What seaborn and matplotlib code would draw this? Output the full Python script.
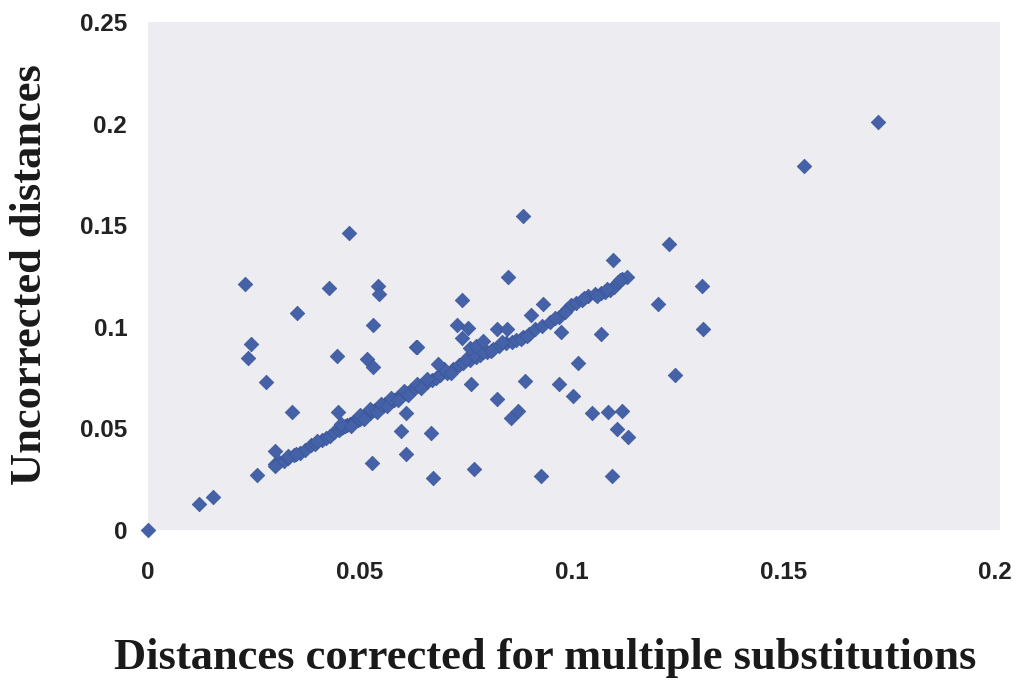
import matplotlib
matplotlib.use("Agg")
import matplotlib.pyplot as plt
import seaborn as sns
import pandas as pd

# Points along the main diagonal (corrected, uncorrected)
diag_x = [0.0300, 0.0310, 0.0320, 0.0330, 0.0345, 0.0360, 0.0370, 0.0385, 0.0395, 0.0410,
          0.0420, 0.0430, 0.0440, 0.0450, 0.0455, 0.0460, 0.0465, 0.0470, 0.0478, 0.0485,
          0.0490, 0.0495, 0.0500, 0.0505, 0.0510, 0.0515, 0.0520, 0.0525, 0.0530, 0.0535,
          0.0540, 0.0545, 0.0550, 0.0555, 0.0560, 0.0568, 0.0575, 0.0580, 0.0588, 0.0595,
          0.0600, 0.0610, 0.0620, 0.0630, 0.0640, 0.0650, 0.0660, 0.0670, 0.0680, 0.0690,
          0.0705, 0.0720, 0.0735, 0.0745, 0.0760, 0.0775, 0.0785, 0.0800, 0.0815, 0.0830,
          0.0845, 0.0860, 0.0870, 0.0885, 0.0900, 0.0915, 0.0930, 0.0950, 0.0970, 0.0990,
          0.1000, 0.1010, 0.1025, 0.1040, 0.1055, 0.1070, 0.1080, 0.1090, 0.1100, 0.1110,
          0.1120, 0.1130,
          0.0455, 0.0480, 0.0500, 0.0510, 0.0525, 0.0540, 0.0550, 0.0565, 0.0575, 0.0590,
          0.0605, 0.0615, 0.0635, 0.0645, 0.0660, 0.0700, 0.0715, 0.0750, 0.0770, 0.0790,
          0.0810, 0.0835, 0.0880, 0.0895, 0.0960, 0.0985, 0.1030, 0.1060, 0.1085, 0.1115,
          0.0330, 0.0350, 0.0300, 0.0400]
diag_y = [0.0325, 0.0335, 0.0340, 0.0355, 0.0370, 0.0380, 0.0395, 0.0420, 0.0425, 0.0445,
          0.0455, 0.0465, 0.0480, 0.0490, 0.0500, 0.0505, 0.0510, 0.0515, 0.0520, 0.0530,
          0.0535, 0.0540, 0.0548, 0.0555, 0.0560, 0.0565, 0.0570, 0.0578, 0.0585, 0.0590,
          0.0595, 0.0600, 0.0605, 0.0612, 0.0620, 0.0628, 0.0635, 0.0640, 0.0650, 0.0655,
          0.0665, 0.0675, 0.0690, 0.0700, 0.0710, 0.0720, 0.0730, 0.0740, 0.0750, 0.0765,
          0.0775, 0.0790, 0.0810, 0.0820, 0.0835, 0.0850, 0.0860, 0.0875, 0.0892, 0.0905,
          0.0918, 0.0925, 0.0935, 0.0950, 0.0965, 0.0990, 0.1005, 0.1025, 0.1050, 0.1090,
          0.1105, 0.1115, 0.1130, 0.1150, 0.1160, 0.1165, 0.1170, 0.1180, 0.1195, 0.1220,
          0.1235, 0.1245,
          0.0520, 0.0510, 0.0565, 0.0545, 0.0595, 0.0580, 0.0620, 0.0610, 0.0650, 0.0640,
          0.0685, 0.0665, 0.0720, 0.0700, 0.0745, 0.0790, 0.0775, 0.0840, 0.0860, 0.0875,
          0.0880, 0.0925, 0.0940, 0.0955, 0.1045, 0.1075, 0.1140, 0.1150, 0.1185, 0.1230,
          0.0365, 0.0375, 0.0315, 0.0440]

# Scattered points off the diagonal
off_x = [0.0000, 0.0120, 0.0153, 0.0229, 0.0236, 0.0243, 0.0257, 0.0279, 0.0300, 0.0340,
         0.0352, 0.0427, 0.0446, 0.0449, 0.0475, 0.0517, 0.0529, 0.0531, 0.0531, 0.0543,
         0.0545, 0.0597, 0.0609, 0.0609, 0.0633, 0.0635, 0.0668, 0.0673, 0.0685, 0.0730,
         0.0741, 0.0741, 0.0756, 0.0760, 0.0763, 0.0770, 0.0775, 0.0790, 0.0824, 0.0824,
         0.0848, 0.0850, 0.0857, 0.0874, 0.0886, 0.0890, 0.0904, 0.0928, 0.0933, 0.0970,
         0.0975, 0.1004, 0.1015, 0.1048, 0.1070, 0.1086, 0.1096, 0.1098, 0.1107, 0.1120,
         0.1133, 0.1204, 0.1230, 0.1244, 0.1308, 0.1310, 0.1549, 0.1724]
off_y = [0.0000, 0.0127, 0.0160, 0.1210, 0.0848, 0.0917, 0.0270, 0.0730, 0.0387, 0.0583,
         0.1070, 0.1190, 0.0858, 0.0583, 0.1460, 0.0843, 0.0328, 0.1010, 0.0800, 0.1200,
         0.1160, 0.0485, 0.0574, 0.0373, 0.0900, 0.0900, 0.0475, 0.0255, 0.0818, 0.1010,
         0.1132, 0.0946, 0.0995, 0.0897, 0.0720, 0.0300, 0.0905, 0.0930, 0.0990, 0.0647,
         0.0990, 0.1245, 0.0550, 0.0588, 0.1544, 0.0735, 0.1060, 0.0265, 0.1110, 0.0720,
         0.0975, 0.0660, 0.0824, 0.0578, 0.0966, 0.0583, 0.0265, 0.1328, 0.0495, 0.0588,
         0.0456, 0.1110, 0.1407, 0.0765, 0.1200, 0.0990, 0.1790, 0.2008]

x_ticks = [0, 0.05, 0.1, 0.15, 0.2]
x_tick_labels = ["0", "0.05", "0.1", "0.15", "0.2"]
y_ticks = [0, 0.05, 0.1, 0.15, 0.2, 0.25]
y_tick_labels = ["0", "0.05", "0.1", "0.15", "0.2", "0.25"]

df = pd.DataFrame({"corrected": diag_x + off_x, "uncorrected": diag_y + off_y})

sns.set_style("white")
fig = plt.figure(figsize=(10.22, 6.82), dpi=100)
ax = fig.add_axes([148 / 1022, (682 - 530) / 682, 852 / 1022, 508 / 682])
ax.set_facecolor("#ECECF1")

sns.scatterplot(data=df, x="corrected", y="uncorrected", marker="D", s=55,
                color="#4562A8", edgecolor="#3A5598", linewidth=0.5, ax=ax,
                clip_on=False, zorder=3)

ax.set_xlim(0, 0.2012)
ax.set_ylim(0, 0.25)
ax.set_xticks(x_ticks)
ax.set_xticklabels(x_tick_labels, fontfamily="Liberation Sans", fontweight="bold",
                   fontsize=17.5, color="#222222")
ax.set_yticks(y_ticks)
ax.set_yticklabels(y_tick_labels, fontfamily="Liberation Sans", fontweight="bold",
                   fontsize=17.5, color="#222222")
ax.tick_params(axis="both", length=0)
ax.tick_params(axis="x", pad=22)
ax.tick_params(axis="y", pad=15)
for sp in ax.spines.values():
    sp.set_visible(False)
ax.grid(False)

ax.set_xlabel("")
ax.set_ylabel("")
fig.text(545 / 1022, 1 - 658 / 682, "Distances corrected for multiple substitutions",
         ha="center", va="center", fontfamily="Liberation Serif", fontweight="bold",
         fontsize=32, color="#1a1a1a")
fig.text(30 / 1022, 1 - 275 / 682, "Uncorrected distances", rotation=90,
         ha="center", va="center", fontfamily="Liberation Serif", fontweight="bold",
         fontsize=32, color="#1a1a1a")

fig.savefig("out.png", dpi=100, facecolor="white")
